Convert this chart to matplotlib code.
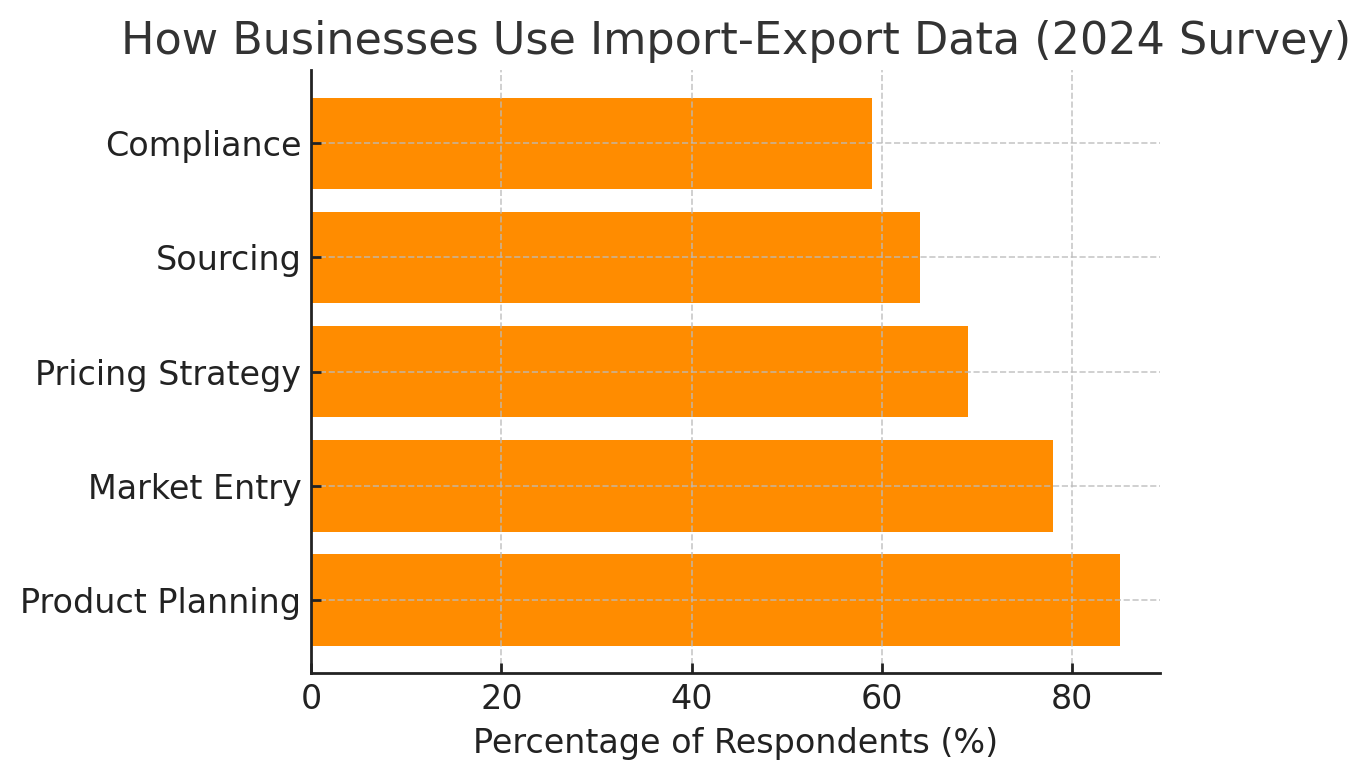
import numpy as np
import matplotlib
matplotlib.use("Agg")
import matplotlib.pyplot as plt

uses = ["Product Planning", "Market Entry", "Pricing Strategy", "Sourcing", "Compliance"]
pct = [85, 78, 69, 64, 59]
xticks = [0, 20, 40, 60, 80]

plt.rcParams['font.family'] = ['DejaVu Sans']
plt.rcParams['text.color'] = '#222222'
plt.rcParams['axes.labelcolor'] = '#222222'
plt.rcParams['xtick.color'] = '#222222'
plt.rcParams['ytick.color'] = '#222222'

fig, ax = plt.subplots(figsize=(6.85, 3.9), dpi=200)
fig.subplots_adjust(left=0.227, right=0.847, top=0.910, bottom=0.137)

ax.barh(uses, pct, color='#FF8C00', height=0.8, zorder=1)

ax.set_xticks(xticks)
ax.set_xlabel("Percentage of Respondents (%)", fontsize=12)
ax.set_title("How Businesses Use Import-Export Data (2024 Survey)", fontsize=16, color='#333333')
ax.tick_params(axis='both', labelsize=12, direction='in', length=3.5, width=1)
ax.grid(True, linestyle='--', color='#bbbbbb', alpha=0.8, linewidth=0.6, zorder=2)
ax.set_axisbelow(False)

for s in ['top', 'right']:
    ax.spines[s].set_visible(False)
for s in ['left', 'bottom']:
    ax.spines[s].set_linewidth(1)
    ax.spines[s].set_color('#222222')
    ax.spines[s].set_zorder(5)

plt.savefig("out.png")
